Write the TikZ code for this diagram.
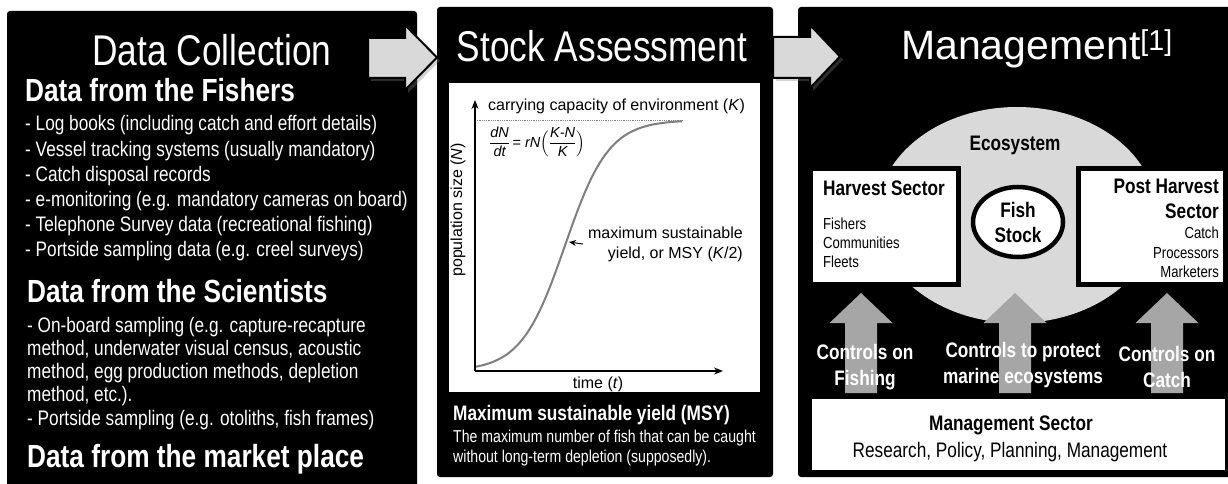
\documentclass[tikz,border=0pt]{standalone}
\usepackage{amsmath}
\usepackage{fontspec}
\setmainfont{Liberation Sans}[FakeStretch=0.82]
\newfontfamily\plotfont{Liberation Sans}
\usepackage{tikz}
\usetikzlibrary{arrows.meta, positioning, shapes.geometric, shadows}

\definecolor{ecogray}{HTML}{D9D9D9}
\definecolor{ctrlgray}{HTML}{A6A6A6}
\definecolor{curvegray}{HTML}{7F7F7F}

\newcommand{\setfs}[1]{\fontsize{#1}{#1}\selectfont}

\tikzset{
    panel/.style={fill=black, rounded corners=3pt},
    title/.style={white, font=\setfs{43}, anchor=base, inner sep=0},
    head/.style={white, font=\bfseries\setfs{32}, anchor=base west, inner sep=0},
    item/.style={white, font=\setfs{21}, anchor=base west, inner sep=0},
    plottext/.style={font=\plotfont\setfs{16}, inner sep=0},
    plotaxis/.style={line width=1.2pt, -{Stealth[length=9pt, width=7pt]}},
    flow/.style={fill=ecogray, draw=black, line width=2pt, line join=miter,
        drop shadow={opacity=0.35, shadow xshift=3pt, shadow yshift=-3pt}},
    sectorbox/.style={fill=white, draw=black, line width=5pt},
    sectorhead/.style={font=\bfseries\setfs{21}, inner sep=0},
    sectoritem/.style={font=\setfs{16}, inner sep=0},
    ctrl/.style={fill=ctrlgray},
    ctrllabel/.style={white, font=\bfseries\fontsize{21}{26}\selectfont, align=center, inner sep=0}
}

\begin{document}
\begin{tikzpicture}[x=1pt, y=-1pt]
    \useasboundingbox (0,0) rectangle (1228,484);

    % Data collection
    \fill[panel] (7,11) rectangle (417,490);
    \node[title] (collect) at (212,66) {Data Collection};
    \node[head] (fishers) at (25,102) {Data from the Fishers};
    \foreach \txt [count=\i] in {{- Log books (including catch and effort details)},
            {- Vessel tracking systems (usually mandatory)},
            {- Catch disposal records},
            {- e-monitoring (e.g. mandatory cameras on board)},
            {- Telephone Survey data (recreational fishing)},
            {- Portside sampling data (e.g. creel surveys)}}
        \node[item] (fisher\i) at (25,{131+25*(\i-1)}) {\txt};
    \node[head] (scientists) at (27,302) {Data from the Scientists};
    \foreach \txt [count=\i] in {{- On-board sampling (e.g. capture-recapture},
            {method, underwater visual census, acoustic},
            {method, egg production methods, depletion},
            {method, etc.).},
            {- Portside sampling (e.g. otoliths, fish frames)}}
        \node[item] (scientist\i) at (27,{332+23.3*(\i-1)}) {\txt};
    \node[head] (market) at (27,467) {Data from the market place};

    % Stock assessment
    \fill[panel] (437,7) rectangle (773,477);
    \node[title] (assess) at (602,62) {Stock Assessment};
    \fill[white] (449,83) rectangle (760,392);
    \coordinate (origin) at (475,371);
    \coordinate (ytop) at (475,100);
    \coordinate (xend) at (723,371);
    \coordinate (kline) at (683,120);
    \draw[curvegray, densely dotted, line width=0.8pt] (origin |- kline) -- (kline);
    \draw[curvegray, line width=2pt] plot[domain=475:682, samples=90, smooth]
        (\x, {371-251/(1+exp(-(\x-565)/22))});
    \draw[plotaxis] (origin) -- (ytop);
    \draw[plotaxis] (origin) -- (xend);
    \node[plottext, anchor=base west] (kcap) at (488,111) {carrying capacity of environment (\textit{K})};
    \node[plottext, anchor=west, font=\plotfont\setfs{14.5}] (logistic) at (489,142)
        {$\dfrac{\textit{dN}}{\textit{dt}}$\,= \textit{rN}$\Bigl(\dfrac{\textit{K-N}}{\textit{K}}\Bigr)$};
    \node[plottext, rotate=90] (popsize) at (458,210) {population size (\textit{N})};
    \node[plottext, anchor=east, align=right, font=\plotfont\fontsize{16}{20}\selectfont] (msy) at (743,244)
        {maximum sustainable\\yield, or MSY (\textit{K}/2)};
    \coordinate (msypt) at (569,242);
    \draw[-{Stealth[length=7pt, width=6pt]}, line width=1pt] ([xshift=-5pt]msy.west) -- (msypt);
    \node[plottext, anchor=base] (time) at (598,388) {time (\textit{t})};
    \node[white, font=\bfseries\setfs{21}, anchor=base west, inner sep=0] (msytitle) at (453,420) {Maximum sustainable yield (MSY)};
    \node[white, font=\setfs{17.2}, anchor=base west, inner sep=0] (msytext) at (453,442) {The maximum number of fish that can be caught};
    \node[white, font=\setfs{17.2}, anchor=base west, inner sep=0] (msytext2) at (453,462) {without long-term depletion (supposedly).};

    % Management
    \fill[panel] (798,7) rectangle (1235,477);
    \node[title, font=\plotfont\setfs{41}] (manage) at (1037,60) {Management\textsuperscript{[1]}};
    \fill[ecogray] (1017,215) ellipse [x radius=140pt, y radius=108pt];
    \node[sectorhead, text=black, anchor=base] (eco) at (1015,150) {Ecosystem};
    \node[sectorbox, minimum width=148pt, minimum height=116pt] (harvest) at (884,226) {};
    \node[sectorhead, anchor=base west] (harvesthead) at (823,195) {Harvest Sector};
    \node[sectoritem, anchor=base west] (fishersitem) at (823,229) {Fishers};
    \node[sectoritem, anchor=base west] (communities) at (823,248) {Communities};
    \node[sectoritem, anchor=base west] (fleets) at (823,267) {Fleets};
    \node[sectorbox, minimum width=147pt, minimum height=116pt] (postharvest) at (1151.5,226) {};
    \node[sectorhead, anchor=base east] (posthead) at (1219,193) {Post Harvest};
    \node[sectorhead, anchor=base east] (posthead2) at (1219,218) {Sector};
    \node[sectoritem, anchor=base east] (catchitem) at (1219,238) {Catch};
    \node[sectoritem, anchor=base east] (processors) at (1219,258) {Processors};
    \node[sectoritem, anchor=base east] (marketers) at (1219,277) {Marketers};
    \node[ellipse, fill=white, draw=black, line width=4.5pt, minimum width=90pt, minimum height=70pt,
        align=center, inner sep=0, font=\bfseries\fontsize{21}{25}\selectfont] (stock) at (1018,222) {Fish\\Stock};

    % Controls
    \foreach \ax in {861,1015,1167}
        \fill[ctrl] (\ax-16,393) -- (\ax-16,323) -- (\ax-31.5,323) -- (\ax,293)
            -- (\ax+31.5,323) -- (\ax+16,323) -- (\ax+16,393) -- cycle;
    \node[ctrllabel] (fishlbl) at (865,367) {Controls on\\Fishing};
    \node[ctrllabel] (ecolbl) at (1023,365) {Controls to protect\\marine ecosystems};
    \node[ctrllabel] (catchlbl) at (1167,367) {Controls on\\Catch};
    \node[fill=white, minimum width=413pt, minimum height=71pt] (mgmt) at (1018.5,434.5) {};
    \node[sectorhead, anchor=base] (mgmthead) at (1011,430) {Management Sector};
    \node[font=\setfs{21}, anchor=base, inner sep=0] (mgmttext) at (1010,457) {Research, Policy, Planning, Management};

    % Flow between stages
    \draw[flow] (368,38) -- (405,38) -- (405,25) -- (437,57.5) -- (405,90) -- (405,78) -- (368,78) -- cycle;
    \draw[flow] (773,37) -- (810,37) -- (810,25) -- (840,56.5) -- (810,88) -- (810,78) -- (773,78) -- cycle;
\end{tikzpicture}
\end{document}
